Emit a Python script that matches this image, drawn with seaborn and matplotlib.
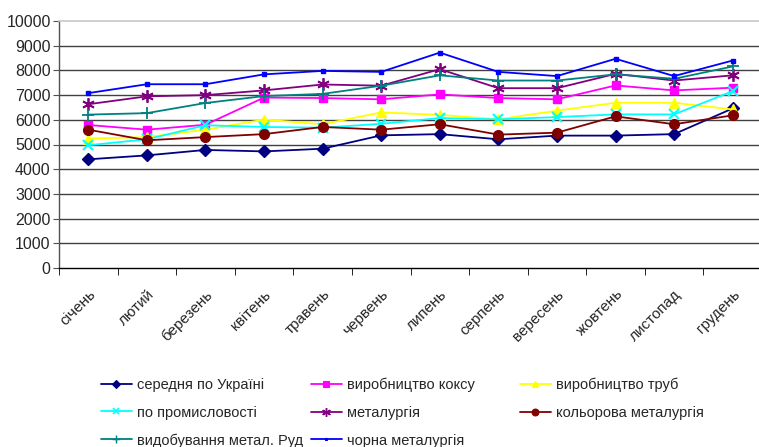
import matplotlib
matplotlib.use("Agg")
import matplotlib.pyplot as plt
from matplotlib.lines import Line2D
from matplotlib.transforms import ScaledTranslation
import seaborn as sns
import pandas as pd

sns.set_style("white")
plt.rcParams["font.family"] = ["Liberation Sans", "DejaVu Sans"]

months = ["січень", "лютий", "березень", "квітень", "травень", "червень",
          "липень", "серпень", "вересень", "жовтень", "листопад", "грудень"]

avg_ukraine = [4400, 4560, 4780, 4720, 4830, 5370, 5420, 5210, 5360, 5360, 5420, 6460]
coke = [5790, 5600, 5800, 6900, 6880, 6830, 7030, 6880, 6830, 7390, 7190, 7300]
pipes = [5240, 5300, 5600, 6010, 5820, 6300, 6200, 6020, 6370, 6690, 6690, 6420]
industry = [4970, 5210, 5780, 5710, 5680, 5840, 6070, 6020, 6110, 6220, 6220, 7160]
metallurgy = [6630, 6950, 7000, 7190, 7430, 7380, 8050, 7280, 7280, 7860, 7590, 7800]
nonferrous = [5600, 5170, 5300, 5420, 5710, 5600, 5820, 5400, 5480, 6140, 5820, 6180]
ore_mining = [6210, 6270, 6680, 6960, 7050, 7380, 7800, 7590, 7590, 7840, 7660, 8160]
ferrous = [7080, 7440, 7440, 7840, 7980, 7940, 8720, 7940, 7770, 8470, 7770, 8400]

series = [
    ("середня по Україні", avg_ukraine, "#000080", "D", 6, 1.0),
    ("виробництво коксу", coke, "#FF00FF", "s", 6, 1.0),
    ("виробництво труб", pipes, "#FFFF00", "^", 7, 1.0),
    ("по промисловості", industry, "#00FFFF", "x", 7, 1.5),
    ("металургія", metallurgy, "#800080", (6, 2, 0), 9, 1.3),
    ("кольорова металургія", nonferrous, "#800000", "o", 7, 1.0),
    ("видобування метал. Руд", ore_mining, "#008080", "+", 9, 1.3),
    ("чорна металургія", ferrous, "#0000FF", "s", 3, 1.0),
]

fig = plt.figure(figsize=(7.59, 4.47), dpi=100)
ax = fig.add_axes([59 / 759, (447 - 268) / 447, 703 / 759, 247 / 447])

x_idx = list(range(len(months)))
handles = []
for name, vals, color, marker, ms, mew in series:
    df = pd.DataFrame({"month": x_idx, "value": vals})
    sns.lineplot(data=df, x="month", y="value", ax=ax, color=color, lw=1.3,
                 marker=marker, markersize=ms, markeredgecolor=color,
                 markerfacecolor=color, markeredgewidth=mew, zorder=3)
    handles.append(Line2D([], [], color=color, lw=1.3, marker=marker,
                          markersize=ms * 0.7, markeredgecolor=color,
                          markerfacecolor=color, markeredgewidth=mew * 0.8))

ax.set_xlim(-0.5, 11.5)
ax.set_ylim(0, 10000)
ax.set_yticks(range(0, 10001, 1000))
ax.set_xlabel("")
ax.set_ylabel("")

# horizontal grid
for yv in range(1000, 10000, 1000):
    ax.axhline(yv, color="#404040", lw=1.0, zorder=1)

ax.spines["right"].set_visible(False)
ax.spines["top"].set_color("#c8c8c8")
ax.spines["top"].set_linewidth(1.2)
ax.spines["left"].set_color("#505050")
ax.spines["bottom"].set_color("#000000")
ax.spines["left"].set_linewidth(1.0)
ax.spines["bottom"].set_linewidth(1.0)

ax.set_xticks(x_idx)
ax.set_xticklabels(months, rotation=45, ha="right", rotation_mode="anchor",
                   fontsize=11)
shift = ScaledTranslation(-8 / 100, 0, fig.dpi_scale_trans)
for lbl in ax.get_xticklabels():
    lbl.set_transform(lbl.get_transform() + shift)
ax.set_xticks([i - 0.5 for i in range(13)], minor=True)
ax.tick_params(axis="x", which="major", length=0, pad=14)
ax.tick_params(axis="x", which="minor", length=5, direction="out",
               color="#000000", bottom=True)
ax.tick_params(axis="y", length=4, direction="out", color="#505050",
               labelsize=11.5, pad=2, left=True)

# legend laid out in three fixed columns
col_x = [101 / 759, 311 / 759, 520 / 759]
columns = [[0, 3, 6], [1, 4, 7], [2, 5]]
for cx, idxs in zip(col_x, columns):
    fig.legend([handles[i] for i in idxs], [series[i][0] for i in idxs],
               loc="upper left", bbox_to_anchor=(cx, 1 - 378 / 447),
               frameon=False, fontsize=10.5, handlelength=2.1,
               handletextpad=0.35, labelspacing=0.93, borderpad=0,
               borderaxespad=0)

fig.savefig("out.png", dpi=100)
